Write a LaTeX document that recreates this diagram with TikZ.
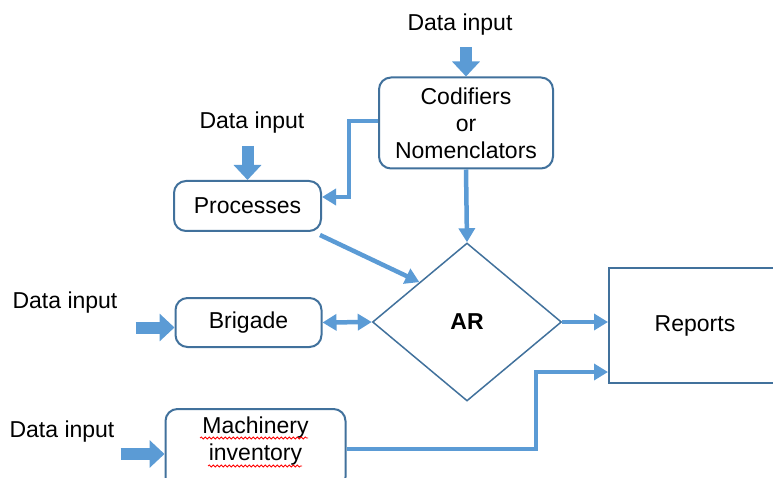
\documentclass[tikz,border=0pt]{standalone}
\usepackage{fontspec}
\setmainfont{Liberation Sans}
\usetikzlibrary{shapes.geometric,arrows.meta,decorations.pathmorphing}
\definecolor{linkblue}{HTML}{5B9BD5}
\definecolor{edgeblue}{HTML}{41719C}

\begin{document}
\begin{tikzpicture}[
        x=1pt, y=-1pt,
        every node/.style={
            inner sep=0pt,
            font=\fontsize{23}{27}\selectfont
        },
        box/.style={draw=edgeblue, line width=2pt, rounded corners=12pt, fill=white, align=center},
        conn/.style={draw=linkblue, line width=4.5pt, -{Triangle[width=16pt,length=14pt]}},
        fat/.style={draw=linkblue, line width=12pt, -{Triangle[width=27pt,length=15pt]}},
        spell/.style={draw=red, line width=0.8pt, decorate, decoration={snake, segment length=4pt, amplitude=1pt}}
    ]
    \useasboundingbox (0,0) rectangle (773,478);

    % Blocks
    \node[box, minimum width=174pt, minimum height=91pt] (cod) at (466,123) {Codifiers\\or\\Nomenclators};
    \node[box, minimum width=147pt, minimum height=50pt] (proc) at (247.5,206) {Processes};
    \node[box, minimum width=146pt, minimum height=49pt] (brig) at (248.5,322.5) {Brigade};
    \node[box, anchor=north] (mach) at (255.5,408) {\parbox[c][80pt][t]{180pt}{\centering\vspace*{8pt}Machinery\\inventory}};
    \node[diamond, draw=edgeblue, line width=1.5pt, minimum width=189pt, minimum height=158pt] (ar) at (467,322) {\textbf{AR}};
    \node[draw=edgeblue, line width=2pt, minimum width=172pt, minimum height=115pt] (rep) at (695,325.5) {Reports};

    % Inputs
    \node (din1) at (460,25) {Data input};
    \node (din2) at (252,123) {Data input};
    \node (din3) at (65,303) {Data input};
    \node (din4) at (62,432) {Data input};

    \draw[fat] ([yshift=29pt]cod.north) -- (cod.north);
    \draw[fat] ([yshift=34pt]proc.north) -- (proc.north);
    \draw[fat] ([xshift=-39pt,yshift=-5pt]brig.west) -- ([yshift=-5pt]brig.west);
    \draw[fat] ([xshift=-44pt,yshift=-5pt]mach.west) -- ([yshift=-5pt]mach.west);

    % Links
    \draw[conn] (cod.south) -- (ar.north);
    \draw[conn] ([yshift=2pt]cod.west) -- ++(-29,0) |- ([yshift=9pt]proc.east);
    \draw[conn] ([xshift=-2pt,yshift=-3pt]proc.south east) -- (ar.north west);
    \draw[conn, {Triangle[width=16pt,length=14pt]}-{Triangle[width=16pt,length=14pt]}] (brig.east) -- (ar.west);
    \draw[conn] (ar.east) -- (ar.east -| rep.west);
    \draw[conn] (mach.east) -- ++(189.5,0) |- ([yshift=-46.5pt]rep.west);

    % Spelling marks
    \draw[spell] (200,438) -- (308,438);
    \draw[spell] (208,466) -- (302,466);

\end{tikzpicture}
\end{document}
